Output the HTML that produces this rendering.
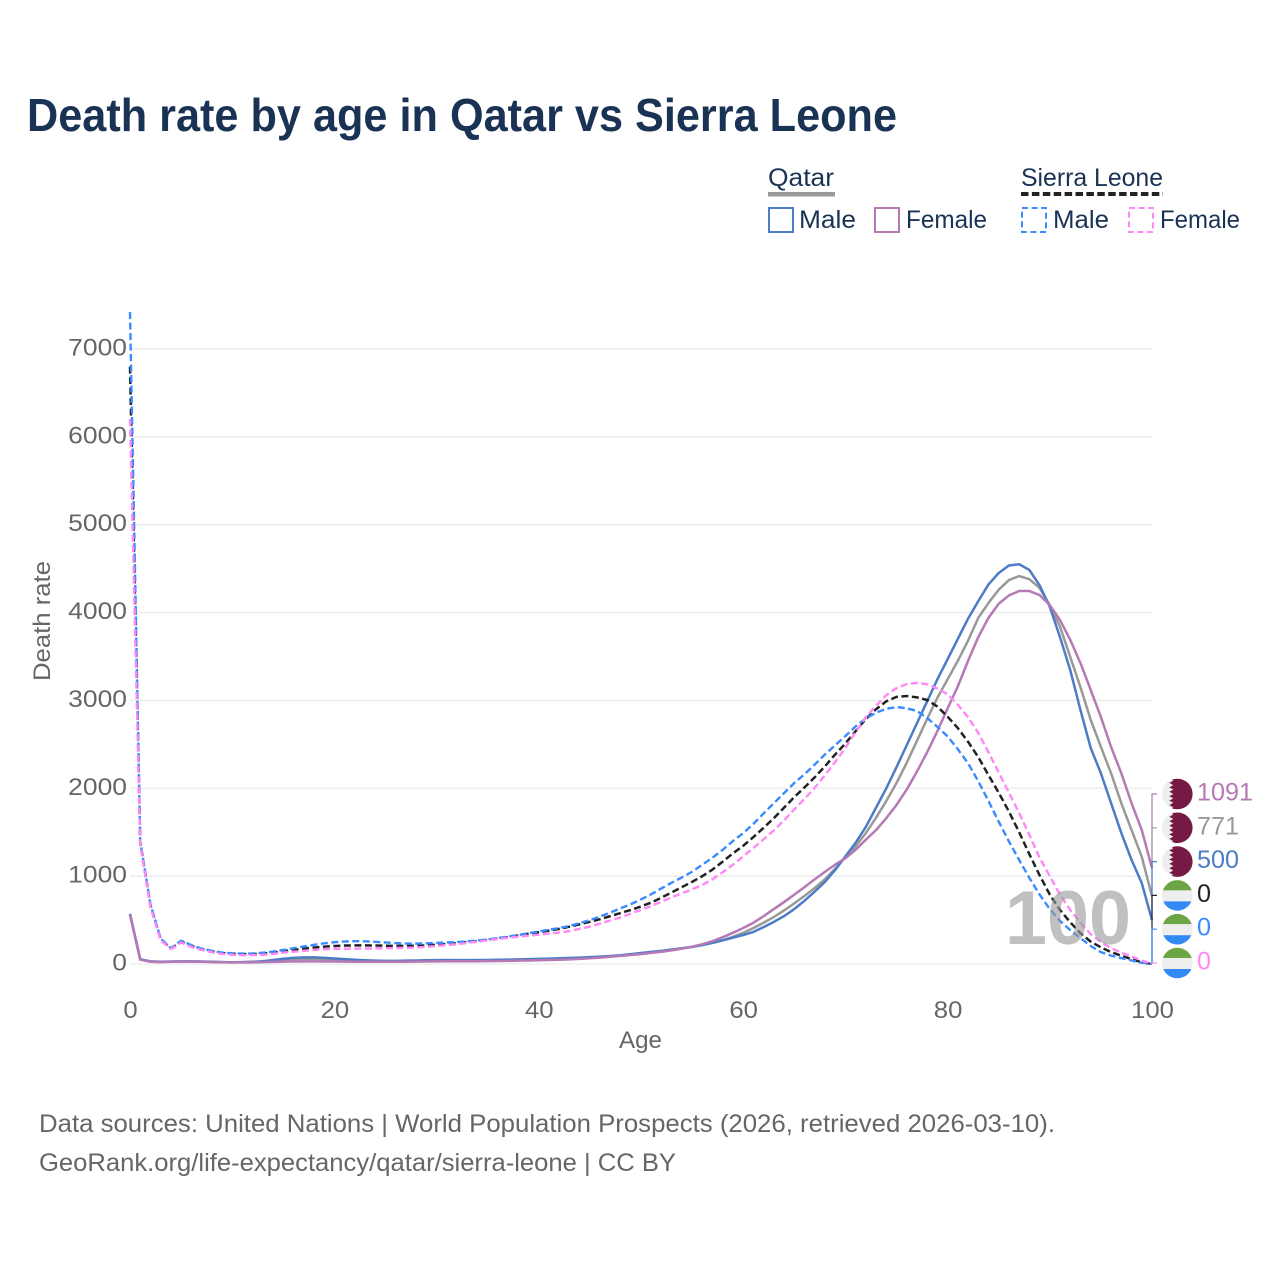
<!DOCTYPE html>
<html lang="en">
<head>
<meta charset="utf-8">
<title>Death rate by age in Qatar vs Sierra Leone</title>
<style>
html,body{margin:0;padding:0;background:#fff;}
svg{display:block;font-family:"Liberation Sans",sans-serif;}
</style>
</head>
<body>
<svg id="chart" width="1280" height="1280" viewBox="0 0 1280 1280" xmlns="http://www.w3.org/2000/svg">
  <defs>
    <clipPath id="flag-clip"><circle cx="0" cy="0" r="15.3"/></clipPath>
  </defs>
  <rect x="0" y="0" width="1280" height="1280" fill="#fff"/>
  <text x="27" y="131" font-size="46" font-weight="700" fill="#1a3355" textLength="870" lengthAdjust="spacingAndGlyphs">Death rate by age in Qatar vs Sierra Leone</text>

  <g font-size="25" fill="#1a3355">
    <text x="768" y="186" textLength="66" lengthAdjust="spacingAndGlyphs">Qatar</text>
    <rect x="768" y="192" width="67" height="4.5" fill="#999"/>
    <text x="1021" y="186" textLength="142" lengthAdjust="spacingAndGlyphs">Sierra Leone</text>
    <line x1="1021" y1="194" x2="1163" y2="194" stroke="#222" stroke-width="4" stroke-dasharray="7.5 3.4"/>
    <rect x="769" y="208" width="24" height="24" fill="none" stroke="#4d7cc7" stroke-width="2"/>
    <text x="799" y="228" textLength="57" lengthAdjust="spacingAndGlyphs">Male</text>
    <rect x="875" y="208" width="24" height="24" fill="none" stroke="#b57ab5" stroke-width="2"/>
    <text x="906" y="228" textLength="81" lengthAdjust="spacingAndGlyphs">Female</text>
    <rect x="1022" y="208" width="24" height="24" fill="none" stroke="#3a8bff" stroke-width="2" stroke-dasharray="6 3.6"/>
    <text x="1053" y="228" textLength="56" lengthAdjust="spacingAndGlyphs">Male</text>
    <rect x="1129" y="208" width="24" height="24" fill="none" stroke="#ff88f5" stroke-width="2" stroke-dasharray="6 3.6"/>
    <text x="1160" y="228" textLength="80" lengthAdjust="spacingAndGlyphs">Female</text>
  </g>

  <g id="grid"></g>
  <g id="y-ticks" font-size="24" fill="#666"></g>
  <g id="x-ticks" font-size="24" fill="#666"></g>
  <text transform="translate(50 621) rotate(-90)" text-anchor="middle" font-size="24" fill="#666" textLength="120" lengthAdjust="spacingAndGlyphs">Death rate</text>
  <text x="619" y="1048" font-size="24" fill="#666" textLength="43" lengthAdjust="spacingAndGlyphs">Age</text>

  <g id="series" fill="none"></g>
  <text id="age-readout" x="1005" y="944" font-size="76" font-weight="700" fill="#999" fill-opacity="0.62" textLength="126" lengthAdjust="spacingAndGlyphs">100</text>
  <g id="end-labels"></g>

  <text x="39" y="1132" font-size="25" fill="#666" textLength="1016" lengthAdjust="spacingAndGlyphs">Data sources: United Nations | World Population Prospects (2026, retrieved 2026-03-10).</text>
  <text x="39" y="1171" font-size="25" fill="#666" textLength="637" lengthAdjust="spacingAndGlyphs">GeoRank.org/life-expectancy/qatar/sierra-leone | CC BY</text>
</svg>
<script>
const xTicks = [0, 20, 40, 60, 80, 100];
const yTicks = [0, 1000, 2000, 3000, 4000, 5000, 6000, 7000];

const qatarAll = [570,52,28,24,27,29,29,27,24,21,19,20,23,28,37,47,54,57,57,53,48,43,39,36,33,32,32,33,35,37,39,40,39,39,40,41,43,45,47,50,53,56,60,64,68,73,79,86,95,107,120,133,146,160,176,195,218,243,270,310,355,410,470,535,610,690,775,865,965,1085,1215,1340,1490,1665,1855,2060,2290,2540,2790,3030,3240,3450,3680,3940,4110,4260,4370,4415,4380,4280,4085,3840,3495,3150,2780,2470,2170,1830,1525,1220,771];
const qatarMale = [570,55,30,25,28,30,30,28,25,22,20,22,25,32,45,60,70,75,75,70,62,55,48,42,38,36,36,38,40,42,44,45,44,44,45,46,48,50,52,55,58,61,65,69,73,78,84,91,100,112,125,138,150,165,180,195,215,240,270,300,330,365,420,480,545,625,720,825,935,1070,1225,1380,1560,1780,2000,2240,2490,2740,2990,3240,3470,3700,3930,4130,4320,4450,4535,4550,4485,4310,4065,3720,3345,2890,2460,2170,1830,1490,1185,920,500];
const qatarFemale = [560,50,26,22,25,27,27,25,22,20,18,18,19,21,24,27,29,30,30,29,28,27,26,25,25,25,25,26,27,28,30,31,31,31,32,33,34,36,38,40,42,45,48,52,58,65,72,82,92,102,113,126,140,155,175,197,225,260,305,355,410,470,545,625,705,790,875,965,1050,1130,1205,1300,1415,1525,1660,1810,1985,2190,2410,2650,2910,3160,3450,3720,3940,4100,4195,4245,4245,4200,4085,3915,3690,3425,3120,2810,2470,2170,1830,1525,1091];
const sierraLeoneAll = [6800,1380,665,280,175,255,205,168,143,125,116,112,112,118,130,145,160,175,188,198,205,210,212,212,210,208,206,206,208,212,220,228,238,250,262,275,290,307,325,345,362,380,400,425,452,480,510,545,580,615,655,700,755,815,875,935,1000,1075,1165,1260,1345,1445,1550,1660,1780,1900,2010,2125,2250,2385,2510,2650,2790,2900,2990,3040,3050,3035,3005,2930,2815,2685,2530,2355,2150,1950,1735,1500,1250,1010,790,615,475,350,255,190,135,95,55,20,0];
const sierraLeoneMale = [7420,1400,680,290,180,265,215,175,150,130,122,118,120,128,142,160,180,200,218,235,248,256,260,258,252,245,238,233,232,235,240,245,250,258,268,280,295,312,330,350,370,390,410,432,465,500,540,585,635,680,735,795,860,925,985,1050,1130,1210,1300,1400,1490,1595,1715,1830,1945,2060,2160,2270,2385,2490,2595,2705,2795,2860,2905,2925,2910,2880,2800,2700,2590,2445,2285,2080,1855,1620,1395,1185,980,790,625,490,385,295,205,135,95,68,40,15,0];
const sierraLeoneFemale = [6200,1360,650,270,170,245,195,160,135,115,105,100,100,105,115,130,140,150,160,168,172,175,176,176,178,180,182,184,188,195,205,215,225,240,255,270,285,300,310,322,333,345,358,375,400,425,460,495,530,575,615,660,710,760,805,850,900,965,1045,1130,1225,1320,1420,1520,1635,1760,1880,2005,2150,2300,2460,2640,2810,2940,3060,3140,3185,3200,3185,3135,3070,2950,2810,2630,2410,2180,1950,1720,1470,1210,1000,790,615,470,340,250,180,130,85,40,0];

const NS = 'http://www.w3.org/2000/svg';
const xAxis = function (age) { return 130 + age * 10.22; };
const yAxis = function (v) { return 964 - v * 0.08786; };

const gridGroup = document.getElementById('grid');
const yTickGroup = document.getElementById('y-ticks');
const xTickGroup = document.getElementById('x-ticks');
const seriesGroup = document.getElementById('series');
const endGroup = document.getElementById('end-labels');

function makeEl(tag, parent, attrs) {
  const el = document.createElementNS(NS, tag);
  Object.keys(attrs).forEach(function (k) { el.setAttribute(k, attrs[k]); });
  parent.appendChild(el);
  return el;
}

yTicks.forEach(function (t) {
  const line = makeEl('line', gridGroup, { x1: 130, x2: 1152, y1: yAxis(t), y2: yAxis(t), stroke: '#eeeeee', 'stroke-width': 1.6 });
  
  
  const s = String(t);
  const label = makeEl('text', yTickGroup, { x: 127, y: yAxis(t) + 6.5, 'text-anchor': 'end', textLength: s.length * 14.7, lengthAdjust: 'spacingAndGlyphs' });
  
  
  label.textContent = s;
});

xTicks.forEach(function (t) {
  const s = String(t);
  const label = makeEl('text', xTickGroup, { x: xAxis(t) + 0.5, y: 1018, 'text-anchor': 'middle', textLength: s.length * 14.3, lengthAdjust: 'spacingAndGlyphs' });
  
  
  label.textContent = s;
});

function pathFor(values) {
  return values.map(function (v, i) {
    return (i ? 'L' : 'M') + xAxis(i).toFixed(2) + ' ' + yAxis(v).toFixed(2);
  }).join(' ');
}

const drawOrder = [
  { values: qatarAll, stroke: '#999999', dash: '', width: 2.5 },
  { values: qatarMale, stroke: '#4d7cc7', dash: '', width: 2.5 },
  { values: qatarFemale, stroke: '#b57ab5', dash: '', width: 2.5 },
  { values: sierraLeoneAll, stroke: '#222222', dash: '7 3.5', width: 2.5 },
  { values: sierraLeoneMale, stroke: '#3a8bff', dash: '7 3.5', width: 2.4 },
  { values: sierraLeoneFemale, stroke: '#ff88f5', dash: '7 3.5', width: 2.4 }
];

drawOrder.forEach(function (s) {
  const p = makeEl('path', seriesGroup, { d: pathFor(s.values), stroke: s.stroke, 'stroke-width': s.width, 'stroke-linejoin': 'round' });
  if (s.dash) { p.setAttribute('stroke-dasharray', s.dash); }
  
  
});

const endEntries = [
  { values: qatarFemale, color: '#b57ab5', flag: 'qatar' },
  { values: qatarAll, color: '#999999', flag: 'qatar' },
  { values: qatarMale, color: '#4d7cc7', flag: 'qatar' },
  { values: sierraLeoneAll, color: '#222222', flag: 'sierra-leone' },
  { values: sierraLeoneMale, color: '#3a8bff', flag: 'sierra-leone' },
  { values: sierraLeoneFemale, color: '#ff88f5', flag: 'sierra-leone' }
];

function drawFlag(group, kind) {
  const inner = makeEl('g', group, { 'clip-path': 'url(#flag-clip)' });
  if (kind === 'qatar') {
    makeEl('rect', inner, { x: -16, y: -16, width: 32, height: 32, fill: '#eeeeee' });
    let pts = '16,-16 -8,-16';
    for (let i = 0; i < 7; i++) {
      const top = -15.5 + i * 4.43;
      pts += ' -4,' + (top + 2.2).toFixed(1) + ' -8,' + (top + 4.43).toFixed(1);
    }
    pts += ' -8,16 16,16';
    makeEl('polygon', inner, { points: pts, fill: '#751a42' });
  } else {
    makeEl('rect', inner, { x: -16, y: -16, width: 32, height: 11, fill: '#6da544' });
    makeEl('rect', inner, { x: -16, y: -5, width: 32, height: 11, fill: '#eeeeee' });
    makeEl('rect', inner, { x: -16, y: 6, width: 32, height: 10, fill: '#338af3' });
  }
}

endEntries.forEach(function (entry, i) {
  const value = entry.values[entry.values.length - 1];
  const labelY = 794 + i * 33.8;
  const endX = xAxis(100);
  const connector = makeEl('path', endGroup, {
    d: 'M' + endX + ' ' + yAxis(value) + ' V' + labelY + ' H' + (endX + 5),
    fill: 'none', stroke: entry.color, 'stroke-width': 1.2
  });
  
  
  const flag = makeEl('g', endGroup, { transform: 'translate(1177.3 ' + labelY + ')' });
  
  
  drawFlag(flag, entry.flag);
  const s = String(value);
  const label = makeEl('text', endGroup, { x: 1197, y: labelY + 6.5, 'font-size': 25, fill: entry.color, textLength: s.length * 14, lengthAdjust: 'spacingAndGlyphs' });
  
  
  label.textContent = s;
});
</script>
</body>
</html>
